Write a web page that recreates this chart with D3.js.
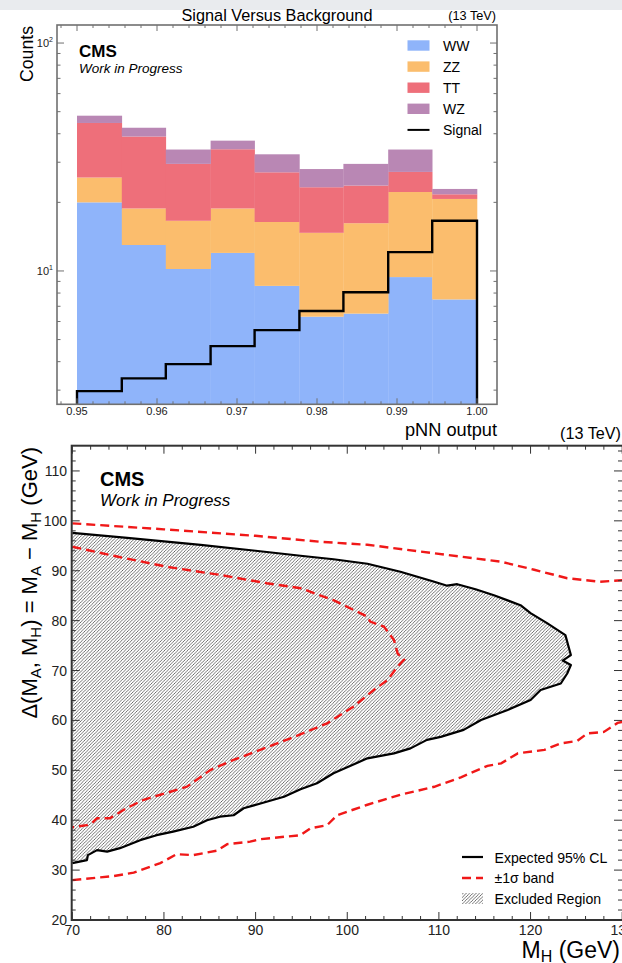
<!DOCTYPE html>
<html><head><meta charset="utf-8">
<script src="https://cdn.jsdelivr.net/npm/d3@7"></script>
<style>body{margin:0;background:#fff}svg{display:block;font-family:"Liberation Sans",Arial,sans-serif}</style>
</head><body>
<svg id="c" width="622" height="963"></svg>
<script>
// ---------- Top panel data ----------
const binEdges = [0.95, 0.9556, 0.9611, 0.9667, 0.9722, 0.9778, 0.9833, 0.9889, 0.9944, 1.0];
const bgKeys = ["WW", "ZZ", "TT", "WZ"];
const WW = [20.0, 13.0, 10.2, 12.0, 8.6, 6.3, 6.5, 9.4, 7.5];
const ZZ = [5.7, 5.8, 6.4, 6.8, 7.8, 8.4, 9.7, 12.8, 13.2];
const TT = [18.9, 20.1, 12.9, 15.4, 10.7, 8.6, 7.5, 5.0, 1.0];
const WZ = [3.4, 3.6, 4.6, 3.1, 5.4, 4.7, 5.8, 6.9, 1.2];
const signal = [2.97, 3.38, 3.9, 4.68, 5.5, 6.67, 8.06, 12.1, 16.6];
const topXTicks = [0.95, 0.96, 0.97, 0.98, 0.99, 1.00];
const colors = {WW: "#8fb4fa", ZZ: "#fbbd6d", TT: "#ee6f7a", WZ: "#b987b4"};

// ---------- Bottom panel data ----------
const expMH = [70, 76, 84, 90, 94.9, 98.5, 102.2, 105.8, 109.5, 110.9, 112.0, 114.0, 116.0, 118.9, 120.0, 121.8, 123.8, 124.4, 123.5, 124.4, 124.0, 123.3, 121.1, 120.0, 117.5, 114.6, 112.7, 110.2, 108.7, 106.9, 105.1, 102.2, 98.5, 96.7, 94.9, 93.1, 91.2, 88.7, 87.6, 86.1, 84.7, 83.2, 81.0, 79.2, 77.4, 75.2, 73.8, 72.7, 71.7, 71.6, 70];
const expDM = [97.6, 96.6, 95.2, 94.0, 93.0, 92.3, 91.4, 89.8, 87.8, 87.0, 87.3, 86.3, 85.1, 83.1, 81.5, 79.5, 77.1, 73.1, 72.0, 71.1, 69.4, 67.4, 66.1, 64.1, 62.1, 60.1, 58.1, 56.7, 56.1, 54.4, 53.4, 52.4, 49.4, 47.4, 46.2, 44.7, 43.7, 42.4, 41.0, 40.7, 40.0, 38.7, 37.7, 37.0, 36.0, 34.4, 33.7, 34.0, 33.0, 32.0, 31.4];
const upMH = [70, 80, 90, 97.1, 102.2, 109.5, 116.8, 120.4, 124.0, 127.6, 130];
const upDM = [99.5, 98.3, 97.0, 95.8, 95.2, 93.5, 91.8, 90.2, 88.5, 87.8, 88.1];
const inMH = [70, 75, 80.3, 86, 91.2, 94.9, 98.5, 102.2, 102.5, 104.0, 105.1, 105.5, 106.2, 105.5, 104.4, 102.9, 100.7, 97.8, 93.8, 90.5, 87.6, 85.1, 82.5, 80.7, 77.8, 75.9, 74.1, 72.7, 72.3, 71.6, 70];
const inDM = [94.8, 92.8, 90.8, 89.2, 87.5, 86.5, 84.1, 80.8, 79.8, 78.8, 76.1, 73.4, 72.2, 70.8, 68.1, 66.1, 62.8, 59.4, 56.4, 54.1, 52.1, 50.1, 46.7, 45.7, 44.1, 42.4, 40.4, 40.4, 39.7, 39.0, 38.6];
const loMH = [70, 74.5, 76.7, 79.6, 81.4, 83.2, 85.8, 86.9, 89.4, 90.5, 94.9, 96.0, 97.8, 98.9, 102.2, 105.8, 109.5, 112.4, 115.3, 116.8, 118.6, 121.5, 123.3, 125.1, 126.2, 128.0, 129.5, 130];
const loDM = [28.0, 28.8, 29.5, 31.4, 33.2, 33.0, 33.9, 35.2, 35.7, 36.2, 37.0, 38.4, 39.0, 41.0, 43.1, 45.1, 46.7, 48.6, 50.9, 51.4, 53.4, 54.1, 55.4, 55.9, 57.4, 57.7, 59.5, 59.7];
const botXTicks = [70, 80, 90, 100, 110, 120, 130];
const botYTicks = [20, 30, 40, 50, 60, 70, 80, 90, 100, 110];

const svg = d3.select("#c");
svg.append("rect").attr("x",0).attr("y",0).attr("width",622).attr("height",10).attr("fill","#e9ebee");

// ================= TOP PANEL =================
const T = {l:57, r:497, t:25, b:404.3};
const xT = d3.scaleLinear().domain([0.9475, 1.0025]).range([T.l, T.r]);
const yT = d3.scaleLog().domain([2.6, 120]).range([T.b, T.t]);
svg.append("defs").append("clipPath").attr("id","clipT").append("rect")
  .attr("x",T.l).attr("y",T.t).attr("width",T.r-T.l).attr("height",T.b-T.t);

const rows = WW.map((v,i)=>({WW:WW[i], ZZ:ZZ[i], TT:TT[i], WZ:WZ[i], i}));
const stacked = d3.stack().keys(bgKeys)(rows);
const gT = svg.append("g").attr("clip-path","url(#clipT)");
stacked.forEach(layer=>{
  gT.selectAll(null).data(layer).enter().append("rect")
    .attr("x", d=>xT(binEdges[d.data.i]))
    .attr("width", d=>xT(binEdges[d.data.i+1])-xT(binEdges[d.data.i]) + 0.3)
    .attr("y", d=>yT(d[1]))
    .attr("height", d=>yT(Math.max(d[0], 2.6)) - yT(d[1]))
    .attr("fill", colors[layer.key]);
});
// signal step
const sigPts = [[binEdges[0], 2.6]];
signal.forEach((s,i)=>{ sigPts.push([binEdges[i], s]); sigPts.push([binEdges[i+1], s]); });
sigPts.push([binEdges[9], 2.6]);
gT.append("path").attr("d", d3.line().x(d=>xT(d[0])).y(d=>yT(d[1]))(sigPts))
  .attr("fill","none").attr("stroke","#000").attr("stroke-width",2.4);

// frame
const frameCol = "#707070";
svg.append("rect").attr("x",T.l).attr("y",T.t).attr("width",T.r-T.l).attr("height",T.b-T.t)
  .attr("fill","none").attr("stroke",frameCol).attr("stroke-width",1.6);
const xMinorT = d3.range(0, 27).map(k=>0.948 + k*0.002).filter(v=>v<=1.0021);
const gTick = svg.append("g").attr("stroke",frameCol).attr("stroke-width",1);
xMinorT.forEach(v=>{
  const major = topXTicks.some(t=>Math.abs(t-v)<1e-6);
  const L = major?6:3;
  gTick.append("line").attr("x1",xT(v)).attr("x2",xT(v)).attr("y1",T.b).attr("y2",T.b-L);
  gTick.append("line").attr("x1",xT(v)).attr("x2",xT(v)).attr("y1",T.t).attr("y2",T.t+L);
});
const logTicks = yT.ticks();
logTicks.forEach(v=>{
  const major = Math.abs(Math.log10(v)-Math.round(Math.log10(v)))<1e-9;
  const L = major?7:3.5;
  gTick.append("line").attr("x1",T.l).attr("x2",T.l+L).attr("y1",yT(v)).attr("y2",yT(v));
  gTick.append("line").attr("x1",T.r).attr("x2",T.r-L).attr("y1",yT(v)).attr("y2",yT(v));
});
topXTicks.forEach(v=>{
  svg.append("text").attr("x",xT(v)).attr("y",415).attr("text-anchor","middle")
    .attr("font-size",11).attr("fill","#222").text(d3.format(".2f")(v));
});
[[10,"1"],[100,"2"]].forEach(([v,e])=>{
  const t = svg.append("text").attr("x",53).attr("y",yT(v)+4).attr("text-anchor","end")
    .attr("font-size",11).attr("fill","#222");
  t.append("tspan").text("10");
  t.append("tspan").attr("font-size",7).attr("dy",-5).text(e);
});
svg.append("text").attr("x",277).attr("y",21).attr("text-anchor","middle").attr("font-size",16.3).text("Signal Versus Background");
svg.append("text").attr("x",496).attr("y",20).attr("text-anchor","end").attr("font-size",12.7).text("(13 TeV)");
svg.append("text").attr("x",497).attr("y",436).attr("text-anchor","end").attr("font-size",18.2).text("pNN output");
svg.append("text").attr("transform","translate(33,26) rotate(-90)").attr("text-anchor","end").attr("font-size",17.7).text("Counts");
svg.append("text").attr("x",79).attr("y",57.3).attr("font-size",17).attr("font-weight","bold").text("CMS");
svg.append("text").attr("x",79).attr("y",73).attr("font-size",13.5).attr("font-style","italic").text("Work in Progress");
const legT = [["WW","box"],["ZZ","box"],["TT","box"],["WZ","box"],["Signal","line"]];
legT.forEach(([k,type],i)=>{
  const cy = 45.5 + i*21.1;
  if(type==="box") svg.append("rect").attr("x",407.5).attr("y",cy-5.2).attr("width",22).attr("height",10.4).attr("fill",colors[k]);
  else svg.append("line").attr("x1",407.5).attr("x2",429.5).attr("y1",cy).attr("y2",cy).attr("stroke","#000").attr("stroke-width",2);
  svg.append("text").attr("x",443).attr("y",cy+5).attr("font-size",14).text(k);
});

// ================= BOTTOM PANEL =================
const B = {l:71.7, r:624, t:445.7, b:920};
const xB = d3.scaleLinear().domain([70,130]).range([72.3,622.2]);
const yB = d3.scaleLinear().domain([20,115]).range([920,446]);
const defs = svg.select("defs");
const hs = 3.3;
const pat = defs.append("pattern").attr("id","hatch").attr("patternUnits","userSpaceOnUse")
  .attr("width",hs).attr("height",hs);
pat.append("path").attr("d",`M${-hs/2},${hs/2} L${hs/2},${-hs/2} M0,${hs} L${hs},0 M${hs/2},${hs*1.5} L${hs*1.5},${hs/2}`)
  .attr("stroke","#444").attr("stroke-width",0.75);
defs.append("clipPath").attr("id","clipB").append("rect")
  .attr("x",B.l).attr("y",B.t).attr("width",B.r-B.l).attr("height",B.b-B.t);
const gB = svg.append("g").attr("clip-path","url(#clipB)");
const line = d3.line().x(d=>xB(d[0])).y(d=>yB(d[1]));
const expPts = expMH.map((m,i)=>[m, expDM[i]]);
gB.append("path").attr("d", line(expPts)+"Z").attr("fill","url(#hatch)").attr("stroke","none");
gB.append("path").attr("d", line(expPts)).attr("fill","none").attr("stroke","#000").attr("stroke-width",2.2).attr("stroke-linejoin","round");
[[upMH,upDM],[inMH,inDM],[loMH,loDM]].forEach(([ms,ds])=>{
  gB.append("path").attr("d", line(ms.map((m,i)=>[m,ds[i]])))
    .attr("fill","none").attr("stroke","#f01818").attr("stroke-width",2.4).attr("stroke-dasharray","9,5");
});
const frameB = "#333";
svg.append("rect").attr("x",B.l).attr("y",B.t).attr("width",B.r-B.l).attr("height",B.b-B.t)
  .attr("fill","none").attr("stroke",frameB).attr("stroke-width",2);
const gTB = svg.append("g").attr("stroke",frameB).attr("stroke-width",1);
d3.range(70,131,2).forEach(v=>{
  const L = botXTicks.includes(v)?8:4;
  gTB.append("line").attr("x1",xB(v)).attr("x2",xB(v)).attr("y1",B.b).attr("y2",B.b-L);
  gTB.append("line").attr("x1",xB(v)).attr("x2",xB(v)).attr("y1",B.t).attr("y2",B.t+L);
});
d3.range(20,115,2).forEach(v=>{
  const L = botYTicks.includes(v)?8:4;
  gTB.append("line").attr("x1",B.l).attr("x2",B.l+L).attr("y1",yB(v)).attr("y2",yB(v));
  gTB.append("line").attr("x1",622).attr("x2",622-L).attr("y1",yB(v)).attr("y2",yB(v));
});
botXTicks.forEach(v=>{
  svg.append("text").attr("x",xB(v)).attr("y",935).attr("text-anchor","middle").attr("font-size",14).attr("fill","#222").text(v);
});
botYTicks.forEach(v=>{
  svg.append("text").attr("x",67).attr("y",yB(v)+5).attr("text-anchor","end").attr("font-size",14).attr("fill","#222").text(v);
});
svg.append("text").attr("x",621).attr("y",439).attr("text-anchor","end").attr("font-size",16.2).text("(13 TeV)");
const xl = svg.append("text").attr("x",620).attr("y",958).attr("text-anchor","end").attr("font-size",23);
xl.append("tspan").text("M");
xl.append("tspan").attr("font-size",16).attr("dy",4).text("H");
xl.append("tspan").attr("dy",-4).text(" (GeV)");
const yl = svg.append("text").attr("transform","translate(37,447) rotate(-90)").attr("text-anchor","end").attr("font-size",22);
const sub = (t)=>{ yl.append("tspan").attr("font-size",15).attr("dy",4).text(t); };
const nor = (t)=>{ yl.append("tspan").attr("dy",-4).text(t); };
yl.append("tspan").text("Δ(M"); sub("A"); nor(", M"); sub("H"); nor(") = M"); sub("A"); nor(" − M"); sub("H"); nor(" (GeV)");
svg.append("text").attr("x",100).attr("y",486).attr("font-size",20).attr("font-weight","bold").text("CMS");
svg.append("text").attr("x",100).attr("y",506).attr("font-size",17).attr("font-style","italic").text("Work in Progress");
svg.append("line").attr("x1",462).attr("x2",483).attr("y1",857).attr("y2",857).attr("stroke","#000").attr("stroke-width",2.2);
svg.append("line").attr("x1",462).attr("x2",483).attr("y1",878).attr("y2",878).attr("stroke","#f01818").attr("stroke-width",2.4).attr("stroke-dasharray","9,5");
svg.append("rect").attr("x",462).attr("y",893).attr("width",21).attr("height",11).attr("fill","url(#hatch)");
[["Expected 95% CL",862.5],["±1σ band",883],["Excluded Region",903.5]].forEach(([t,y])=>{
  svg.append("text").attr("x",494.5).attr("y",y).attr("font-size",14.1).text(t);
});
</script>
</body></html>
